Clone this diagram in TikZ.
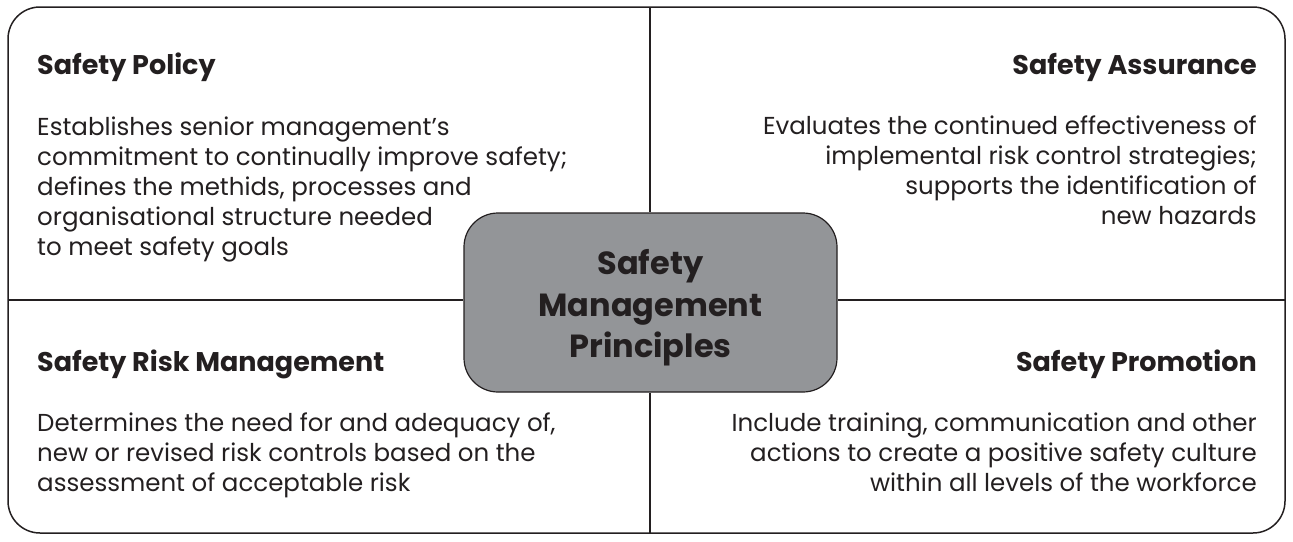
\documentclass[tikz,border=0pt]{standalone}
\usepackage{fontspec}
\setmainfont{Poppins}
\definecolor{smsInk}{RGB}{35,31,32}
\definecolor{smsGrey}{RGB}{147,149,152}

\begin{document}
\begin{tikzpicture}[
  x=1pt, y=-1pt,
  heading/.style={
    inner sep=0pt,
    text=smsInk,
    font=\fontsize{27}{30}\selectfont\bfseries
  },
  body/.style={
    inner sep=0pt,
    text=smsInk,
    font=\fontsize{24.5}{29.8}\selectfont
  },
  hub/.style={
    draw=smsInk,
    fill=smsGrey,
    line width=1.2pt,
    rounded corners=34pt,
    minimum width=373pt,
    minimum height=179pt,
    align=center,
    text=smsInk,
    font=\fontsize{32}{41.5}\selectfont\bfseries
  },
  divider/.style={draw=smsInk, line width=1.5pt}
]
  \useasboundingbox (0,0) rectangle (1293,541);

  % frame and the cross through it
  \draw[divider, rounded corners=32pt] (8,7) rectangle (1285,533);
  \coordinate (topmid) at (650,7);
  \coordinate (botmid) at (650,533);
  \coordinate (leftmid) at (8,300);
  \coordinate (rightmid) at (1285,300);

  % the strut pushes the three lines a little lower in the box
  \node[hub] (principles) at (650.5,302.5)
    {\rule{0pt}{36pt}Safety\\Management\\Principles};

  \draw[divider] (topmid) -- (topmid |- principles.north);
  \draw[divider] (botmid |- principles.south) -- (botmid);
  \draw[divider] (leftmid) -- (leftmid -| principles.west);
  \draw[divider] (rightmid) -- (rightmid -| principles.east);

  % top left
  \node[heading,anchor=base west] (policy) at (37,74) {Safety Policy};
  \node[body,anchor=north west,align=left] (policytext) at (37,117)
    {Establishes senior management’s\\
     commitment to continually improve safety;\\
     defines the methids, processes and\\
     organisational structure needed\\
     to meet safety goals};

  % top right
  \node[heading,anchor=base east] (assurance) at (1257,74) {Safety Assurance};
  \node[body,anchor=north east,align=right] (assurancetext) at (1257,116)
    {Evaluates the continued effectiveness of\\
     implemental risk control strategies;\\
     supports the identification of\\
     new hazards};

  % bottom left
  \node[heading,anchor=base west] (risk) at (37,371) {Safety Risk Management};
  \node[body,anchor=north west,align=left] (risktext) at (37,413)
    {Determines the need for and adequacy of,\\
     new or revised risk controls based on the\\
     assessment of acceptable risk};

  % bottom right
  \node[heading,anchor=base east] (promotion) at (1257,371) {Safety Promotion};
  \node[body,anchor=north east,align=right] (promotiontext) at (1257,413)
    {Include training, communication and other\\
     actions to create a positive safety culture\\
     within all levels of the workforce};
\end{tikzpicture}
\end{document}
